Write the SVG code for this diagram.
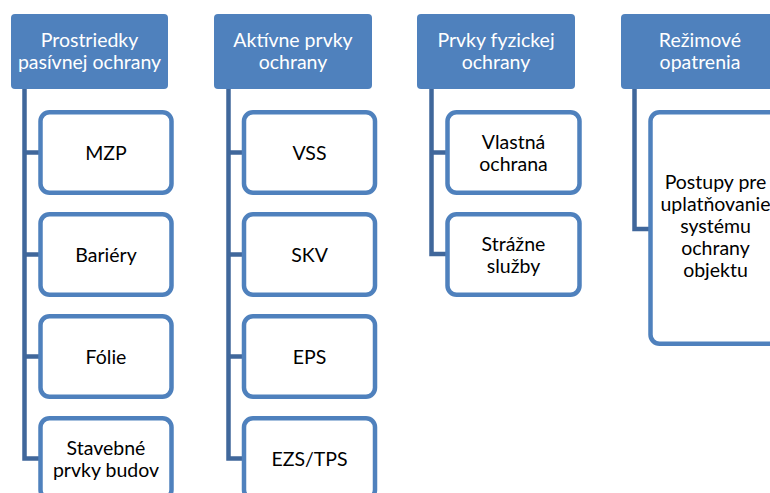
<svg xmlns="http://www.w3.org/2000/svg" width="770" height="493" viewBox="0 0 770 493">
<style>
.hdr{fill:#4F81BD;}
.box{fill:#FFFFFF;stroke:#4F81BD;stroke-width:4.5;}
.con{fill:none;stroke:#40679B;stroke-width:4.5;stroke-linejoin:miter;}
text{font-family:Lato,"Liberation Sans",sans-serif;font-size:19.5px;text-anchor:middle;}
.ht{fill:#FFFFFF;}
.bt{fill:#000000;}
</style>
<rect width="770" height="493" fill="#FFFFFF"/>
<g id="connectors">
<path class="con" d="M24.5 89 V458.5 H41 M24.5 152.5 H41 M24.5 254.5 H41 M24.5 356.5 H41"/>
<path class="con" d="M228.5 89 V458.5 H245 M228.5 152.5 H245 M228.5 254.5 H245 M228.5 356.5 H245"/>
<path class="con" d="M431.5 89 V254 H448 M431.5 152.5 H448"/>
<path class="con" d="M634.5 89 V229 H651"/>
</g>
<g id="h1"><rect class="hdr" x="11" y="14" width="157" height="75" rx="4"/><text class="ht" x="89.5" y="46.5">Prostriedky</text><text class="ht" x="89.5" y="68.5">pasívnej ochrany</text></g>
<g id="h2"><rect class="hdr" x="214" y="14" width="158" height="75" rx="4"/><text class="ht" x="293" y="46.5">Aktívne prvky</text><text class="ht" x="293" y="68.5">ochrany</text></g>
<g id="h3"><rect class="hdr" x="417" y="14" width="158" height="75" rx="4"/><text class="ht" x="496" y="46.5">Prvky fyzickej</text><text class="ht" x="496" y="68.5">ochrany</text></g>
<g id="h4"><rect class="hdr" x="621" y="14" width="158" height="75" rx="4"/><text class="ht" x="700" y="46.5">Režimové</text><text class="ht" x="700" y="68.5">opatrenia</text></g>
<g id="c1a"><rect class="box" x="40.5" y="112.25" width="131" height="80.5" rx="9"/><text class="bt" x="106" y="159.5">MZP</text></g>
<g id="c1b"><rect class="box" x="40.5" y="214.25" width="131" height="80.5" rx="9"/><text class="bt" x="106" y="261.5">Bariéry</text></g>
<g id="c1c"><rect class="box" x="40.5" y="316.25" width="131" height="80.5" rx="9"/><text class="bt" x="106" y="363.5">Fólie</text></g>
<g id="c1d"><rect class="box" x="40.5" y="418.25" width="131" height="80.5" rx="9"/><text class="bt" x="106" y="454.5">Stavebné</text><text class="bt" x="106" y="476.5">prvky budov</text></g>
<g id="c2a"><rect class="box" x="244" y="112.25" width="131" height="80.5" rx="9"/><text class="bt" x="309.5" y="159.5">VSS</text></g>
<g id="c2b"><rect class="box" x="244" y="214.25" width="131" height="80.5" rx="9"/><text class="bt" x="309.5" y="261.5">SKV</text></g>
<g id="c2c"><rect class="box" x="244" y="316.25" width="131" height="80.5" rx="9"/><text class="bt" x="309.5" y="363.5">EPS</text></g>
<g id="c2d"><rect class="box" x="244" y="418.25" width="131" height="80.5" rx="9"/><text class="bt" x="309.5" y="465.5">EZS/TPS</text></g>
<g id="c3a"><rect class="box" x="447.5" y="112.25" width="132" height="80.5" rx="9"/><text class="bt" x="513.5" y="149">Vlastná</text><text class="bt" x="513.5" y="171">ochrana</text></g>
<g id="c3b"><rect class="box" x="447.5" y="214.25" width="132" height="80.5" rx="9"/><text class="bt" x="513.5" y="251">Strážne</text><text class="bt" x="513.5" y="273">služby</text></g>
<g id="c4a"><rect class="box" x="650.5" y="112.25" width="131" height="231.5" rx="9"/><text class="bt" x="715.5" y="189">Postupy pre</text><text class="bt" x="715.5" y="211">uplatňovanie</text><text class="bt" x="715.5" y="233">systému</text><text class="bt" x="715.5" y="255">ochrany</text><text class="bt" x="715.5" y="277">objektu</text></g>
</svg>
